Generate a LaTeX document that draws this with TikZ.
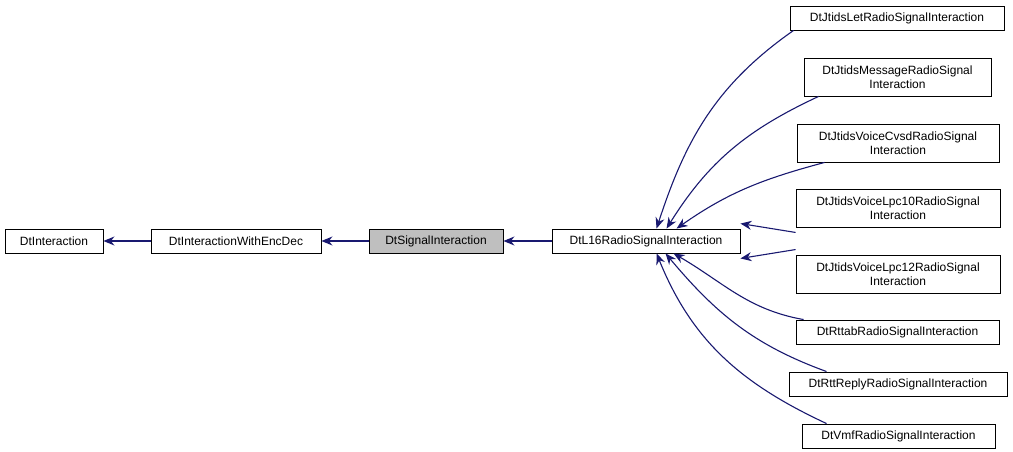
\documentclass[tikz,border=0pt]{standalone}
\usepackage{fontspec}
\setmainfont{Liberation Sans}
\usetikzlibrary{arrows.meta}
\definecolor{edge}{RGB}{25,25,112}
\begin{document}
\begin{tikzpicture}[x=1pt,y=-1pt,
  box/.style={draw=black,fill=white,line width=0.9pt,inner sep=0pt,minimum height=24pt,align=center,font=\fontsize{12}{13.5}\selectfont},
  box2/.style={box,minimum height=38pt},
  ar/.style={draw=edge,line width=1.1pt,{Stealth[length=11pt,width=9pt]}-}]
\useasboundingbox (0,0) rectangle (1013,452);
\node[box,minimum width=98pt] (a) at (54,241) {DtInteraction};
\node[box,minimum width=170pt] (b) at (236,241) {DtInteractionWithEncDec};
\node[box,minimum width=134pt,fill=black!25] (c) at (436,241) {DtSignalInteraction};
\node[box,minimum width=188pt] (d) at (646,241) {DtL16RadioSignalInteraction};
\node[box,minimum width=214pt] (e1) at (897,18) {DtJtidsLetRadioSignalInteraction};
\node[box2,minimum width=187pt] (e2) at (897.5,77) {DtJtidsMessageRadioSignal\\Interaction};
\node[box2,minimum width=202pt] (e3) at (898,143) {DtJtidsVoiceCvsdRadioSignal\\Interaction};
\node[box2,minimum width=204pt] (e4) at (898,208) {DtJtidsVoiceLpc10RadioSignal\\Interaction};
\node[box2,minimum width=204pt] (e5) at (898,274) {DtJtidsVoiceLpc12RadioSignal\\Interaction};
\node[box,minimum width=203pt] (e6) at (897.5,332) {DtRttabRadioSignalInteraction};
\node[box,minimum width=218pt] (e7) at (898,384) {DtRttReplyRadioSignalInteraction};
\node[box,minimum width=193pt] (e8) at (898.5,436) {DtVmfRadioSignalInteraction};
\draw[ar] (a) -- (b);
\draw[ar] (b) -- (c);
\draw[ar] (c) -- (d);
\draw[ar] ([xshift=105pt]d.north west) to[out=72,in=215] ([xshift=4pt]e1.south west);
\draw[ar] ([xshift=115pt]d.north west) to[out=58,in=205] ([xshift=15pt]e2.south west);
\draw[ar] ([xshift=125pt]d.north west) to[out=35,in=195] ([xshift=28pt]e3.south west);
\draw[ar] ([yshift=5pt]d.north east) -- ([yshift=-5pt]e4.south west);
\draw[ar] ([yshift=-5pt]d.south east) -- ([yshift=5pt]e5.north west);
\draw[ar] ([xshift=122pt]d.south west) to[out=-30,in=170] ([xshift=8pt]e6.north west);
\draw[ar] ([xshift=114pt]d.south west) to[out=-50,in=160] ([xshift=38pt]e7.north west);
\draw[ar] ([xshift=105pt]d.south west) to[out=-68,in=155] ([xshift=25pt]e8.north west);
\end{tikzpicture}
\end{document}
